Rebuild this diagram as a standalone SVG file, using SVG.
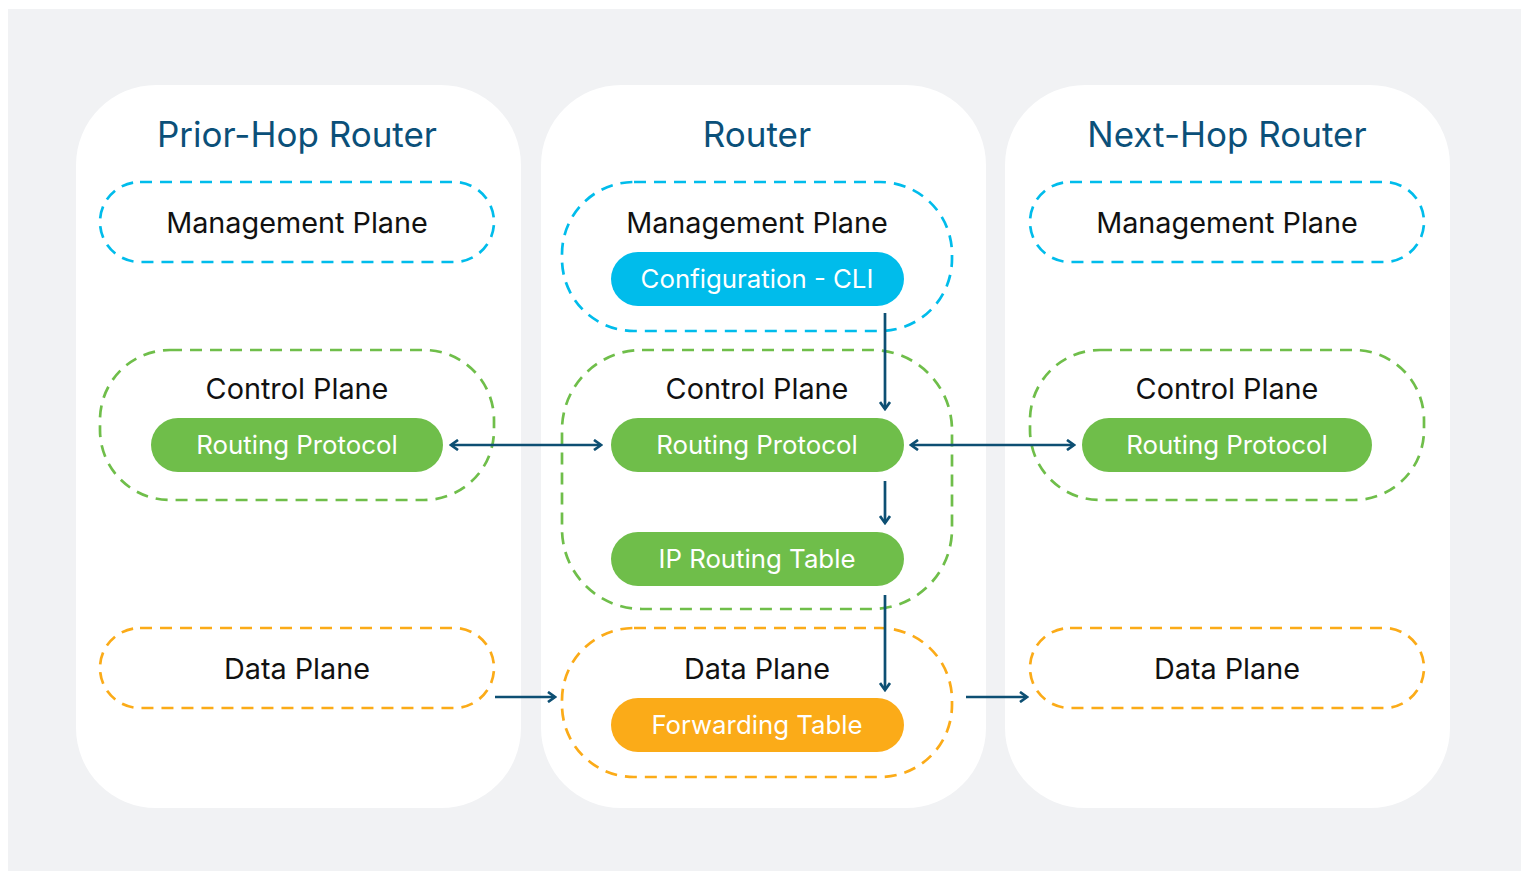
<svg xmlns="http://www.w3.org/2000/svg" width="1525" height="871" viewBox="0 0 1525 871">
<defs>
<style>
.bg{fill:#f1f2f4}
.panel{fill:#ffffff}
.title{font-family:Inter,"Liberation Sans",sans-serif;font-size:35px;fill:#0b5079;text-anchor:middle}
.lbl{font-family:Inter,"Liberation Sans",sans-serif;font-size:28.8px;fill:#111111;text-anchor:middle}
.pt{font-family:Inter,"Liberation Sans",sans-serif;font-size:25.8px;fill:#ffffff;text-anchor:middle}
.mg{fill:none;stroke:#00bceb;stroke-width:2.7;stroke-dasharray:12 8}
.cp{fill:none;stroke:#6fbe4a;stroke-width:2.7;stroke-dasharray:12 8}
.dp{fill:none;stroke:#fbab18;stroke-width:2.7;stroke-dasharray:12 8}
.green{fill:#6fbe4a}
.blue{fill:#00bceb}
.orange{fill:#fbab18}
.conn{fill:none;stroke:#0d4f73;stroke-width:2.7}
</style>
<marker id="ah" viewBox="0 0 12 12" refX="10" refY="6" markerWidth="12" markerHeight="12" markerUnits="userSpaceOnUse" orient="auto-start-reverse">
<path d="M3,1 L10,6 L3,11" fill="none" stroke="#0d4f73" stroke-width="2.7"/>
</marker>
</defs>
<rect class="bg" x="8" y="9" width="1513" height="862"/>
<g id="prior-hop">
<rect class="panel" x="76" y="85" width="445" height="723" rx="80"/>
<text class="title" x="297" y="147">Prior-Hop Router</text>
<g id="ph-mgmt"><rect class="mg" x="100" y="182" width="394" height="80" rx="40"/><text class="lbl" x="297" y="233">Management Plane</text></g>
<g id="ph-ctrl"><rect class="cp" x="100" y="350" width="394" height="150" rx="70"/><text class="lbl" x="297" y="399">Control Plane</text>
<rect class="green" x="151" y="418" width="292" height="54" rx="27"/><text class="pt" x="297" y="454">Routing Protocol</text></g>
<g id="ph-data"><rect class="dp" x="100" y="628" width="394" height="80" rx="40"/><text class="lbl" x="297" y="679">Data Plane</text></g>
</g>
<g id="router">
<rect class="panel" x="541" y="85" width="445" height="723" rx="80"/>
<text class="title" x="757" y="147">Router</text>
<g id="r-mgmt"><rect class="mg" x="562" y="182" width="390" height="149" rx="72"/><text class="lbl" x="757" y="233">Management Plane</text>
<rect class="blue" x="611" y="252" width="293" height="54" rx="27"/><text class="pt" x="757" y="288">Configuration - CLI</text></g>
<g id="r-ctrl"><rect class="cp" x="562" y="350" width="390" height="259" rx="80"/><text class="lbl" x="757" y="399">Control Plane</text>
<rect class="green" x="611" y="418" width="293" height="54" rx="27"/><text class="pt" x="757" y="454">Routing Protocol</text>
<rect class="green" x="611" y="532" width="293" height="54" rx="27"/><text class="pt" x="757" y="568">IP Routing Table</text></g>
<g id="r-data"><rect class="dp" x="562" y="628" width="390" height="149" rx="72"/><text class="lbl" x="757" y="679">Data Plane</text>
<rect class="orange" x="611" y="698" width="293" height="54" rx="27"/><text class="pt" x="757" y="734">Forwarding Table</text></g>
</g>
<g id="next-hop">
<rect class="panel" x="1005" y="85" width="445" height="723" rx="80"/>
<text class="title" x="1227" y="147">Next-Hop Router</text>
<g id="nh-mgmt"><rect class="mg" x="1030" y="182" width="394" height="80" rx="40"/><text class="lbl" x="1227" y="233">Management Plane</text></g>
<g id="nh-ctrl"><rect class="cp" x="1030" y="350" width="394" height="150" rx="70"/><text class="lbl" x="1227" y="399">Control Plane</text>
<rect class="green" x="1082" y="418" width="290" height="54" rx="27"/><text class="pt" x="1227" y="454">Routing Protocol</text></g>
<g id="nh-data"><rect class="dp" x="1030" y="628" width="394" height="80" rx="40"/><text class="lbl" x="1227" y="679">Data Plane</text></g>
</g>
<g id="connectors">
<line class="conn" x1="885" y1="313" x2="885" y2="409" marker-end="url(#ah)"/>
<line class="conn" x1="885" y1="481" x2="885" y2="523" marker-end="url(#ah)"/>
<line class="conn" x1="885" y1="595" x2="885" y2="690" marker-end="url(#ah)"/>
<line class="conn" x1="451" y1="445" x2="601" y2="445" marker-start="url(#ah)" marker-end="url(#ah)"/>
<line class="conn" x1="911" y1="445" x2="1074" y2="445" marker-start="url(#ah)" marker-end="url(#ah)"/>
<line class="conn" x1="495" y1="697" x2="555" y2="697" marker-end="url(#ah)"/>
<line class="conn" x1="966" y1="697" x2="1027" y2="697" marker-end="url(#ah)"/>
</g>
</svg>
